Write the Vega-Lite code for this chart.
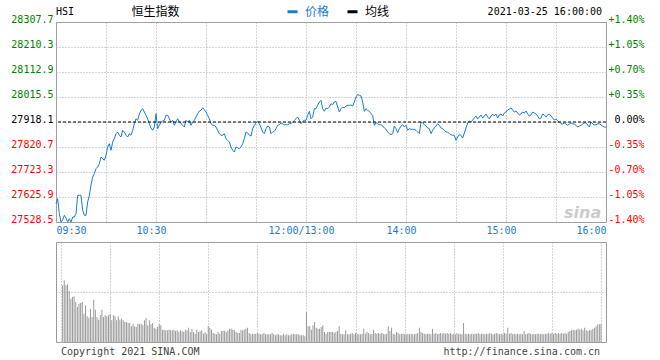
{
  "$schema": "https://vega.github.io/schema/vega-lite/v6.json",
  "background": "white",
  "padding": {"left": 10, "top": 5, "right": 5, "bottom": 3},
  "config": {
    "view": {"stroke": "#999999", "strokeWidth": 1},
    "font": "DejaVu Sans Mono",
    "axis": {"labelFont": "DejaVu Sans Mono", "labelFontSize": 10, "ticks": false, "domain": false, "title": null, "gridColor": "#aaaaaa", "gridDash": [1, 2], "gridOpacity": 1}
  },
  "datasets": {
    "one": [{}],
    "price": [
      {"t":0,"p":27599.8},{"t":1,"p":27619.3},{"t":2,"p":27560.8},{"t":3,"p":27528.5},{"t":4,"p":27536.3},{"t":5,"p":27554.6},{"t":6,"p":27544.1},{"t":7,"p":27528.5},{"t":8,"p":27541.3},{"t":9,"p":27528.5},
      {"t":10,"p":27548.0},{"t":11,"p":27548.0},{"t":12,"p":27560.8},{"t":13,"p":27632.5},{"t":14,"p":27632.5},{"t":15,"p":27632.5},{"t":16,"p":27574.1},{"t":17,"p":27554.6},{"t":18,"p":27554.6},{"t":19,"p":27606.4},
      {"t":20,"p":27632.5},{"t":21,"p":27671.5},{"t":22,"p":27703.8},{"t":23,"p":27716.7},{"t":24,"p":27736.1},{"t":25,"p":27742.8},{"t":26,"p":27755.6},{"t":27,"p":27781.7},{"t":28,"p":27775.1},{"t":29,"p":27768.9},
      {"t":30,"p":27788.3},{"t":31,"p":27820.7},{"t":32,"p":27833.5},{"t":33,"p":27807.8},{"t":34,"p":27840.2},{"t":35,"p":27853.0},{"t":36,"p":27872.5},{"t":37,"p":27879.1},{"t":38,"p":27866.3},{"t":39,"p":27859.6},
      {"t":40,"p":27885.7},{"t":41,"p":27879.1},{"t":42,"p":27866.3},{"t":43,"p":27859.6},{"t":44,"p":27872.5},{"t":45,"p":27866.3},{"t":46,"p":27885.7},{"t":47,"p":27911.5},{"t":48,"p":27930.9},{"t":49,"p":27924.7},
      {"t":50,"p":27949.2},{"t":51,"p":27963.7},{"t":52,"p":27969.9},{"t":53,"p":27957.0},{"t":54,"p":27944.2},{"t":55,"p":27929.8},{"t":56,"p":27911.5},{"t":57,"p":27894.7},{"t":58,"p":27885.7},{"t":59,"p":27898.6},
      {"t":60,"p":27950.4},{"t":61,"p":27892.0},{"t":62,"p":27905.2},{"t":63,"p":27918.1},{"t":64,"p":27922.0},{"t":65,"p":27924.7},{"t":66,"p":27944.2},{"t":67,"p":27944.2},{"t":68,"p":27930.9},{"t":69,"p":27918.1},
      {"t":70,"p":27924.7},{"t":71,"p":27905.2},{"t":72,"p":27918.1},{"t":73,"p":27930.9},{"t":74,"p":27918.1},{"t":75,"p":27911.5},{"t":76,"p":27905.2},{"t":77,"p":27898.6},{"t":78,"p":27924.7},{"t":79,"p":27918.1},
      {"t":80,"p":27924.7},{"t":81,"p":27905.2},{"t":82,"p":27918.1},{"t":83,"p":27924.7},{"t":84,"p":27937.6},{"t":85,"p":27950.4},{"t":86,"p":27960.9},{"t":87,"p":27963.7},{"t":88,"p":27973.8},{"t":89,"p":27966.0},
      {"t":90,"p":27957.0},{"t":91,"p":27944.2},{"t":92,"p":27930.9},{"t":93,"p":27911.5},{"t":94,"p":27905.2},{"t":95,"p":27905.2},{"t":96,"p":27898.6},{"t":97,"p":27885.7},{"t":98,"p":27872.5},{"t":99,"p":27866.3},
      {"t":100,"p":27866.3},{"t":101,"p":27872.5},{"t":102,"p":27853.0},{"t":103,"p":27846.8},{"t":104,"p":27840.2},{"t":105,"p":27820.7},{"t":106,"p":27807.8},{"t":107,"p":27801.2},{"t":108,"p":27820.7},{"t":109,"p":27818.0},
      {"t":110,"p":27814.1},{"t":111,"p":27820.7},{"t":112,"p":27833.5},{"t":113,"p":27853.0},{"t":114,"p":27879.1},{"t":115,"p":27875.2},{"t":116,"p":27866.3},{"t":117,"p":27863.5},{"t":118,"p":27892.0},{"t":119,"p":27905.2},
      {"t":120,"p":27914.2},{"t":121,"p":27922.0},{"t":122,"p":27911.5},{"t":123,"p":27895.9},{"t":124,"p":27879.1},{"t":125,"p":27872.5},{"t":126,"p":27892.0},{"t":127,"p":27902.5},{"t":128,"p":27898.6},{"t":129,"p":27872.5},
      {"t":130,"p":27879.1},{"t":131,"p":27881.9},{"t":132,"p":27892.0},{"t":133,"p":27905.2},{"t":134,"p":27907.6},{"t":135,"p":27914.2},{"t":136,"p":27911.5},{"t":137,"p":27907.6},{"t":138,"p":27907.6},{"t":139,"p":27907.6},
      {"t":140,"p":27911.5},{"t":141,"p":27911.5},{"t":142,"p":27918.1},{"t":143,"p":27924.7},{"t":144,"p":27930.9},{"t":145,"p":27937.6},{"t":146,"p":27924.7},{"t":147,"p":27911.5},{"t":148,"p":27920.8},{"t":149,"p":27924.7},
      {"t":150,"p":27924.7},{"t":151,"p":27944.2},{"t":152,"p":27959.8},{"t":153,"p":27930.9},{"t":154,"p":27937.6},{"t":155,"p":27969.9},{"t":156,"p":27969.9},{"t":157,"p":27983.2},{"t":158,"p":27996.0},{"t":159,"p":28002.6},
      {"t":160,"p":27969.9},{"t":161,"p":27959.8},{"t":162,"p":27972.6},{"t":163,"p":27969.9},{"t":164,"p":27976.5},{"t":165,"p":27989.4},{"t":166,"p":27985.5},{"t":167,"p":27996.0},{"t":168,"p":27998.7},{"t":169,"p":27976.5},
      {"t":170,"p":27957.0},{"t":171,"p":27969.9},{"t":172,"p":27976.5},{"t":173,"p":27972.6},{"t":174,"p":27980.4},{"t":175,"p":27983.2},{"t":176,"p":27983.2},{"t":177,"p":27984.3},{"t":178,"p":27980.4},{"t":179,"p":27996.0},
      {"t":180,"p":28015.5},{"t":181,"p":28025.2},{"t":182,"p":28022.1},{"t":183,"p":28019.4},{"t":184,"p":27996.0},{"t":185,"p":27959.8},{"t":186,"p":27969.9},{"t":187,"p":27963.7},{"t":188,"p":27959.8},{"t":189,"p":27950.4},
      {"t":190,"p":27944.2},{"t":191,"p":27905.2},{"t":192,"p":27915.4},{"t":193,"p":27911.5},{"t":194,"p":27907.6},{"t":195,"p":27907.6},{"t":196,"p":27902.5},{"t":197,"p":27894.7},{"t":198,"p":27889.6},{"t":199,"p":27879.1},
      {"t":200,"p":27872.5},{"t":201,"p":27868.6},{"t":202,"p":27872.5},{"t":203,"p":27902.5},{"t":204,"p":27892.0},{"t":205,"p":27876.4},{"t":206,"p":27892.0},{"t":207,"p":27902.5},{"t":208,"p":27907.6},{"t":209,"p":27898.6},
      {"t":210,"p":27905.2},{"t":211,"p":27885.7},{"t":212,"p":27892.0},{"t":213,"p":27889.6},{"t":214,"p":27889.6},{"t":215,"p":27889.6},{"t":216,"p":27885.7},{"t":217,"p":27879.1},{"t":218,"p":27872.5},{"t":219,"p":27918.1},
      {"t":220,"p":27915.4},{"t":221,"p":27907.6},{"t":222,"p":27902.5},{"t":223,"p":27894.7},{"t":224,"p":27892.0},{"t":225,"p":27872.5},{"t":226,"p":27885.7},{"t":227,"p":27894.7},{"t":228,"p":27902.5},{"t":229,"p":27911.5},
      {"t":230,"p":27905.2},{"t":231,"p":27894.7},{"t":232,"p":27892.0},{"t":233,"p":27885.7},{"t":234,"p":27879.1},{"t":235,"p":27879.1},{"t":236,"p":27872.5},{"t":237,"p":27868.6},{"t":238,"p":27866.3},{"t":239,"p":27866.3},
      {"t":240,"p":27846.8},{"t":241,"p":27859.6},{"t":242,"p":27868.6},{"t":243,"p":27866.3},{"t":244,"p":27855.7},{"t":245,"p":27875.2},{"t":246,"p":27894.7},{"t":247,"p":27914.2},{"t":248,"p":27922.0},{"t":249,"p":27918.1},
      {"t":250,"p":27925.9},{"t":251,"p":27933.7},{"t":252,"p":27941.5},{"t":253,"p":27929.8},{"t":254,"p":27937.6},{"t":255,"p":27945.4},{"t":256,"p":27933.7},{"t":257,"p":27941.5},{"t":258,"p":27949.2},{"t":259,"p":27937.6},
      {"t":260,"p":27929.8},{"t":261,"p":27941.5},{"t":262,"p":27949.2},{"t":263,"p":27941.5},{"t":264,"p":27949.2},{"t":265,"p":27933.7},{"t":266,"p":27945.4},{"t":267,"p":27949.2},{"t":268,"p":27941.5},{"t":269,"p":27953.1},
      {"t":270,"p":27957.0},{"t":271,"p":27964.8},{"t":272,"p":27968.7},{"t":273,"p":27972.6},{"t":274,"p":27964.8},{"t":275,"p":27957.0},{"t":276,"p":27960.9},{"t":277,"p":27953.1},{"t":278,"p":27945.4},{"t":279,"p":27949.2},
      {"t":280,"p":27957.0},{"t":281,"p":27953.1},{"t":282,"p":27960.9},{"t":283,"p":27949.2},{"t":284,"p":27941.5},{"t":285,"p":27945.4},{"t":286,"p":27957.0},{"t":287,"p":27953.1},{"t":288,"p":27949.2},{"t":289,"p":27941.5},
      {"t":290,"p":27929.8},{"t":291,"p":27933.7},{"t":292,"p":27949.2},{"t":293,"p":27945.4},{"t":294,"p":27937.6},{"t":295,"p":27945.4},{"t":296,"p":27949.2},{"t":297,"p":27941.5},{"t":298,"p":27933.7},{"t":299,"p":27925.9},
      {"t":300,"p":27929.8},{"t":301,"p":27922.0},{"t":302,"p":27918.1},{"t":303,"p":27911.5},{"t":304,"p":27910.3},{"t":305,"p":27914.2},{"t":306,"p":27910.3},{"t":307,"p":27905.2},{"t":308,"p":27910.3},{"t":309,"p":27914.2},
      {"t":310,"p":27911.5},{"t":311,"p":27910.3},{"t":312,"p":27905.2},{"t":313,"p":27898.6},{"t":314,"p":27902.5},{"t":315,"p":27905.2},{"t":316,"p":27910.3},{"t":317,"p":27914.2},{"t":318,"p":27915.4},{"t":319,"p":27906.4},
      {"t":320,"p":27898.6},{"t":321,"p":27918.1},{"t":322,"p":27910.3},{"t":323,"p":27906.4},{"t":324,"p":27907.6},{"t":325,"p":27910.3},{"t":326,"p":27911.5},{"t":327,"p":27906.4},{"t":328,"p":27902.5},{"t":329,"p":27898.6},
      {"t":330,"p":27897.4}
    ],
    "vol": [
      {"t":1,"v":56.7},{"t":2,"v":61.7},{"t":3,"v":56.7},{"t":4,"v":57.7},{"t":5,"v":51},{"t":6,"v":43.3},{"t":7,"v":45},{"t":8,"v":45.7},{"t":9,"v":40},{"t":10,"v":35},
      {"t":11,"v":38.3},{"t":12,"v":39},{"t":13,"v":40},{"t":14,"v":28.3},{"t":15,"v":36.7},{"t":16,"v":25.7},{"t":17,"v":24.3},{"t":18,"v":33.3},{"t":19,"v":25},{"t":20,"v":42.3},
      {"t":21,"v":32.3},{"t":22,"v":25},{"t":23,"v":22.3},{"t":24,"v":26.7},{"t":25,"v":32.3},{"t":26,"v":25},{"t":27,"v":26.7},{"t":28,"v":25.7},{"t":29,"v":26.7},{"t":30,"v":27.7},
      {"t":31,"v":21.7},{"t":32,"v":26.7},{"t":33,"v":25.7},{"t":34,"v":21.7},{"t":35,"v":25.7},{"t":36,"v":22.3},{"t":37,"v":23.3},{"t":38,"v":21.7},{"t":39,"v":20},{"t":40,"v":20},
      {"t":41,"v":19},{"t":42,"v":19},{"t":43,"v":15.7},{"t":44,"v":18.3},{"t":45,"v":15.7},{"t":46,"v":15},{"t":47,"v":18.3},{"t":48,"v":17.7},{"t":49,"v":18.3},{"t":50,"v":16.7},
      {"t":51,"v":21.7},{"t":52,"v":24},{"t":53,"v":16.7},{"t":54,"v":21.7},{"t":55,"v":17.7},{"t":56,"v":19},{"t":57,"v":14.3},{"t":58,"v":13.3},{"t":59,"v":15},{"t":60,"v":17.7},
      {"t":61,"v":16.7},{"t":62,"v":12.3},{"t":63,"v":12.3},{"t":64,"v":11.7},{"t":65,"v":11.7},{"t":66,"v":12.3},{"t":67,"v":11.7},{"t":68,"v":11.7},{"t":69,"v":12.3},{"t":70,"v":11},
      {"t":71,"v":11.7},{"t":72,"v":10},{"t":73,"v":11.7},{"t":74,"v":10.7},{"t":75,"v":10},{"t":76,"v":12.3},{"t":77,"v":11.7},{"t":78,"v":14.3},{"t":79,"v":10},{"t":80,"v":13.3},
      {"t":81,"v":10},{"t":82,"v":8.3},{"t":83,"v":12.3},{"t":84,"v":10},{"t":85,"v":10.7},{"t":86,"v":11.7},{"t":87,"v":8.3},{"t":88,"v":10},{"t":89,"v":8.3},{"t":90,"v":15.7},
      {"t":91,"v":14.3},{"t":92,"v":12.3},{"t":93,"v":9},{"t":94,"v":8.3},{"t":95,"v":7.7},{"t":96,"v":10},{"t":97,"v":8.3},{"t":98,"v":11},{"t":99,"v":11},{"t":100,"v":11},
      {"t":101,"v":10},{"t":102,"v":11.7},{"t":103,"v":13.3},{"t":104,"v":13.3},{"t":105,"v":12.3},{"t":106,"v":11.7},{"t":107,"v":10},{"t":108,"v":9},{"t":109,"v":9},{"t":110,"v":12.3},
      {"t":111,"v":11.7},{"t":112,"v":12.3},{"t":113,"v":13.3},{"t":114,"v":14.3},{"t":115,"v":9},{"t":116,"v":7.7},{"t":117,"v":8.3},{"t":118,"v":8.3},{"t":119,"v":8.3},{"t":120,"v":9},
      {"t":121,"v":8.3},{"t":122,"v":7.7},{"t":123,"v":7.7},{"t":124,"v":9},{"t":125,"v":7.7},{"t":126,"v":7.7},{"t":127,"v":7.7},{"t":128,"v":7.7},{"t":129,"v":9},{"t":130,"v":7.7},
      {"t":131,"v":6.7},{"t":132,"v":7.7},{"t":133,"v":7.7},{"t":134,"v":6.7},{"t":135,"v":6.7},{"t":136,"v":8.3},{"t":137,"v":6.7},{"t":138,"v":7.7},{"t":139,"v":6.7},{"t":140,"v":6.7},
      {"t":141,"v":7.7},{"t":142,"v":8.3},{"t":143,"v":7.7},{"t":144,"v":7.7},{"t":145,"v":7.7},{"t":146,"v":6.7},{"t":147,"v":6.7},{"t":148,"v":6.7},{"t":149,"v":5.7},{"t":150,"v":30},
      {"t":151,"v":15.7},{"t":152,"v":15.7},{"t":153,"v":12.3},{"t":154,"v":16.7},{"t":155,"v":20},{"t":156,"v":14.3},{"t":157,"v":13.3},{"t":158,"v":13.3},{"t":159,"v":15},{"t":160,"v":16.7},
      {"t":161,"v":10},{"t":162,"v":8.3},{"t":163,"v":10},{"t":164,"v":10},{"t":165,"v":10},{"t":166,"v":10},{"t":167,"v":9},{"t":168,"v":10},{"t":169,"v":11},{"t":170,"v":15.7},
      {"t":171,"v":8.3},{"t":172,"v":7.7},{"t":173,"v":7.7},{"t":174,"v":11.7},{"t":175,"v":7.7},{"t":176,"v":7.7},{"t":177,"v":8.3},{"t":178,"v":9},{"t":179,"v":7.7},{"t":180,"v":9},
      {"t":181,"v":8.3},{"t":182,"v":7.7},{"t":183,"v":7.7},{"t":184,"v":8.3},{"t":185,"v":13.3},{"t":186,"v":8.3},{"t":187,"v":10},{"t":188,"v":9},{"t":189,"v":7.7},{"t":190,"v":8.3},
      {"t":191,"v":12.3},{"t":192,"v":9},{"t":193,"v":8.3},{"t":194,"v":9},{"t":195,"v":8.3},{"t":196,"v":9},{"t":197,"v":8.3},{"t":198,"v":7.7},{"t":199,"v":8.3},{"t":200,"v":15.7},
      {"t":201,"v":11},{"t":202,"v":14.3},{"t":203,"v":8.3},{"t":204,"v":7.7},{"t":205,"v":10},{"t":206,"v":9},{"t":207,"v":7.7},{"t":208,"v":8.3},{"t":209,"v":8.3},{"t":210,"v":7.7},
      {"t":211,"v":7.7},{"t":212,"v":8.3},{"t":213,"v":7.7},{"t":214,"v":8.3},{"t":215,"v":7.7},{"t":216,"v":7.7},{"t":217,"v":8.3},{"t":218,"v":9},{"t":219,"v":14.3},{"t":220,"v":10},
      {"t":221,"v":9},{"t":222,"v":8.3},{"t":223,"v":7.7},{"t":224,"v":8.3},{"t":225,"v":8.3},{"t":226,"v":7.7},{"t":227,"v":13.3},{"t":228,"v":8.3},{"t":229,"v":9},{"t":230,"v":7.7},
      {"t":231,"v":8.3},{"t":232,"v":9},{"t":233,"v":8.3},{"t":234,"v":9},{"t":235,"v":8.3},{"t":236,"v":9},{"t":237,"v":8.3},{"t":238,"v":9},{"t":239,"v":7.7},{"t":240,"v":8.3},
      {"t":241,"v":7.7},{"t":242,"v":9},{"t":243,"v":7.7},{"t":244,"v":8.3},{"t":245,"v":7.7},{"t":246,"v":19},{"t":247,"v":8.3},{"t":248,"v":7.7},{"t":249,"v":8.3},{"t":250,"v":7.7},
      {"t":251,"v":8.3},{"t":252,"v":7.7},{"t":253,"v":8.3},{"t":254,"v":8.3},{"t":255,"v":9},{"t":256,"v":7.7},{"t":257,"v":8.3},{"t":258,"v":8.3},{"t":259,"v":7.7},{"t":260,"v":8.3},
      {"t":261,"v":7.7},{"t":262,"v":9},{"t":263,"v":8.3},{"t":264,"v":7.7},{"t":265,"v":8.3},{"t":266,"v":9},{"t":267,"v":8.3},{"t":268,"v":7.7},{"t":269,"v":8.3},{"t":270,"v":7.7},
      {"t":271,"v":9},{"t":272,"v":8.3},{"t":273,"v":14.3},{"t":274,"v":8.3},{"t":275,"v":9},{"t":276,"v":7.7},{"t":277,"v":8.3},{"t":278,"v":7.7},{"t":279,"v":8.3},{"t":280,"v":7.7},
      {"t":281,"v":8.3},{"t":282,"v":7.7},{"t":283,"v":11},{"t":284,"v":7.7},{"t":285,"v":8.3},{"t":286,"v":9},{"t":287,"v":8.3},{"t":288,"v":7.7},{"t":289,"v":8.3},{"t":290,"v":7.7},
      {"t":291,"v":8.3},{"t":292,"v":8.3},{"t":293,"v":7.7},{"t":294,"v":8.3},{"t":295,"v":7.7},{"t":296,"v":8.3},{"t":297,"v":8.3},{"t":298,"v":9},{"t":299,"v":8.3},{"t":300,"v":9},
      {"t":301,"v":8.3},{"t":302,"v":9},{"t":303,"v":8.3},{"t":304,"v":9},{"t":305,"v":8.3},{"t":306,"v":9},{"t":307,"v":8.3},{"t":308,"v":9},{"t":309,"v":8.3},{"t":310,"v":10},
      {"t":311,"v":11},{"t":312,"v":11.7},{"t":313,"v":12.3},{"t":314,"v":11.7},{"t":315,"v":12.3},{"t":316,"v":13.3},{"t":317,"v":12.3},{"t":318,"v":13.3},{"t":319,"v":11.7},{"t":320,"v":14.3},
      {"t":321,"v":11.7},{"t":322,"v":11},{"t":323,"v":12.3},{"t":324,"v":11.7},{"t":325,"v":13.3},{"t":326,"v":14.3},{"t":327,"v":15.7},{"t":328,"v":17.7},{"t":329,"v":17.7},{"t":330,"v":18}
    ]
  },
  "spacing": 20,
  "bounds": "flush",
  "vconcat": [
    {
      "width": 550,
      "height": 200,
      "resolve": {"axis": {"y": "independent"}},
      "layer": [
        {
          "data": {"name": "price"},
          "mark": {"type": "line", "strokeWidth": 1, "interpolate": "linear"},
          "encoding": {
            "x": {
              "field": "t", "type": "quantitative",
              "scale": {"domain": [0, 330], "nice": false, "zero": false},
              "axis": {
                "values": [0, 30, 60, 90, 120, 150, 180, 210, 240, 270, 300, 330],
                "grid": true,
                "labelColor": "#1a7ccf",
                "labelPadding": 3,
                "labelBaseline": "top",
                "labelOverlap": false,
                "labelBound": false,
                "labelFlush": false,
                "labelExpr": "datum.value == 0 ? '09:30' : datum.value == 60 ? '10:30' : datum.value == 150 ? '12:00/13:00' : datum.value == 210 ? '14:00' : datum.value == 270 ? '15:00' : datum.value == 330 ? '16:00' : ''",
                "labelAlign": {"expr": "datum.value == 0 ? 'left' : datum.value == 330 ? 'right' : 'center'"},
                "labelOffset": {"expr": "datum.value == 0 || datum.value == 330 ? 0 : -5"}
              }
            },
            "y": {
              "field": "p", "type": "quantitative",
              "scale": {"domain": [27528.5, 28307.7], "nice": false, "zero": false},
              "axis": {
                "values": [27528.5, 27625.9, 27723.3, 27820.7, 27918.1, 28015.5, 28112.9, 28210.3, 28307.7],
                "format": ".1f",
                "grid": true,
                "labelBaseline": "alphabetic",
                "labelPadding": 3,
                "labelColor": {"expr": "datum.value > 27918.15 ? '#008000' : datum.value < 27918.05 ? '#ff0000' : '#000000'"}
              }
            },
            "color": {
              "datum": "价格",
              "type": "nominal",
              "scale": {"domain": ["价格", "均线"], "range": ["#1a7ccf", "#000000"]},
              "legend": {
                "title": null,
                "orient": "none",
                "legendX": 230,
                "legendY": -17,
                "direction": "horizontal",
                "padding": 0,
                "symbolType": "stroke",
                "symbolSize": 100,
                "symbolStrokeWidth": 3,
                "labelFont": "Noto Sans CJK SC",
                "labelFontSize": 12,
                "labelOffset": 6,
                "columnPadding": 11,
                "encode": {"labels": {"update": {"fill": {"signal": "datum.label === '价格' ? '#1a7ccf' : '#000000'"}}}}
              }
            }
          }
        },
        {
          "data": {"name": "one"},
          "mark": {"type": "rule", "color": "#000000", "strokeWidth": 1, "strokeDash": [3, 2]},
          "encoding": {
            "y": {
              "datum": 27918.1, "type": "quantitative",
              "axis": {
                "orient": "right",
                "values": [27528.5, 27625.9, 27723.3, 27820.7, 27918.1, 28015.5, 28112.9, 28210.3, 28307.7],
                "grid": false,
                "labelAlign": "right",
                "labelBaseline": "alphabetic",
                "labelPadding": 38,
                "labelExpr": "(datum.value > 27918.15 ? '+' : datum.value < 27918.05 ? '-' : '') + format(abs(datum.value - 27918.1) / 27918.1 * 100, '.2f') + '%'",
                "labelColor": {"expr": "datum.value > 27918.15 ? '#008000' : datum.value < 27918.05 ? '#ff0000' : '#000000'"}
              }
            }
          }
        },
        {
          "data": {"name": "one"},
          "mark": {"type": "text", "align": "left", "baseline": "alphabetic", "font": "DejaVu Sans Mono", "fontSize": 10, "color": "#000000"},
          "encoding": {
            "x": {"datum": 0, "type": "quantitative"},
            "y": {"datum": 28335, "type": "quantitative", "axis": null},
            "text": {"value": "HSI"}
          }
        },
        {
          "data": {"name": "one"},
          "mark": {"type": "text", "align": "center", "baseline": "alphabetic", "font": "Noto Sans CJK SC", "fontSize": 12, "color": "#000000"},
          "encoding": {
            "x": {"datum": 59.7, "type": "quantitative"},
            "y": {"datum": 28333, "type": "quantitative", "axis": null},
            "text": {"value": "恒生指数"}
          }
        },
        {
          "data": {"name": "one"},
          "mark": {"type": "text", "align": "right", "baseline": "alphabetic", "font": "DejaVu Sans Mono", "fontSize": 10, "color": "#000000"},
          "encoding": {
            "x": {"datum": 327.6, "type": "quantitative"},
            "y": {"datum": 28335, "type": "quantitative", "axis": null},
            "text": {"value": "2021-03-25 16:00:00"}
          }
        },
        {
          "data": {"name": "one"},
          "mark": {"type": "text", "align": "center", "baseline": "middle", "font": "DejaVu Sans", "fontSize": 16, "fontStyle": "italic", "fontWeight": "bold", "color": "#cccccc"},
          "encoding": {
            "x": {"datum": 316, "type": "quantitative"},
            "y": {"datum": 27565, "type": "quantitative", "axis": null},
            "text": {"value": "sina"}
          }
        }
      ]
    },
    {
      "width": 550,
      "height": 100,
      "layer": [
        {
          "data": {"name": "vol"},
          "mark": {"type": "bar", "color": "#999999", "size": 1},
          "encoding": {
            "x": {
              "field": "t", "type": "quantitative",
              "scale": {"domain": [0, 330], "nice": false, "zero": false},
              "axis": {"values": [0, 30, 60, 90, 120, 150, 180, 210, 240, 270, 300, 330], "grid": true, "labels": false}
            },
            "y": {
              "field": "v", "type": "quantitative",
              "scale": {"domain": [0, 100], "nice": false},
              "axis": {"values": [0, 25, 50, 75, 100], "grid": true, "labels": false}
            }
          }
        },
        {
          "data": {"name": "one"},
          "mark": {"type": "text", "align": "left", "baseline": "alphabetic", "font": "DejaVu Sans Mono", "fontSize": 10, "color": "#444444"},
          "encoding": {
            "x": {"datum": 0, "type": "quantitative"},
            "y": {"datum": -13, "type": "quantitative"},
            "text": {"value": "Copyright 2021 SINA.COM"}
          }
        },
        {
          "data": {"name": "one"},
          "mark": {"type": "text", "align": "right", "baseline": "alphabetic", "font": "DejaVu Sans Mono", "fontSize": 10, "color": "#444444"},
          "encoding": {
            "x": {"datum": 329.4, "type": "quantitative"},
            "y": {"datum": -13, "type": "quantitative"},
            "text": {"value": "http://finance.sina.com.cn"}
          }
        }
      ]
    }
  ]
}
